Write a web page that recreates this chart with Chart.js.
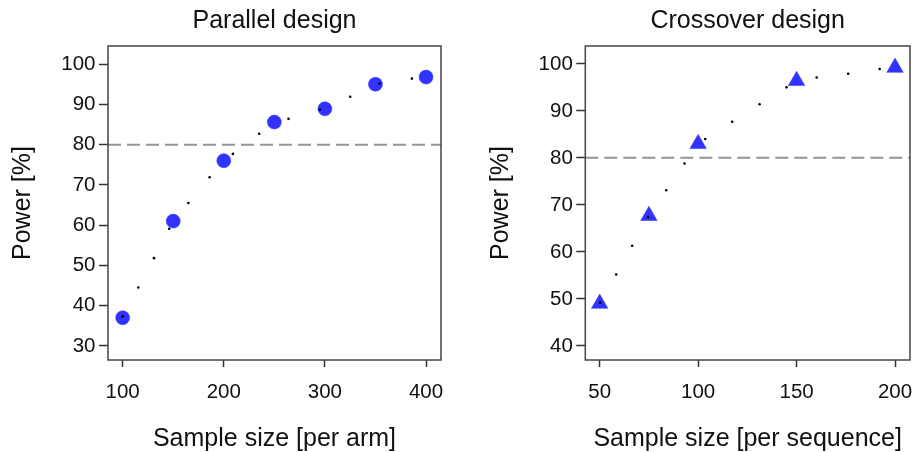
<!DOCTYPE html>
<html><head><meta charset="utf-8">
<script src="https://cdn.jsdelivr.net/npm/chart.js@4"></script>
<style>
html,body{margin:0;padding:0;background:#fff;}
#wrap{position:relative;width:920px;height:452px;overflow:hidden;}
canvas{position:absolute;top:0;}
</style></head><body>
<div id="wrap">
<canvas id="c1" width="460" height="452" style="left:0px"></canvas>
<canvas id="c2" width="460" height="452" style="left:460px"></canvas>
</div>
<script>
// ---- Data ----
const targetPower = 80;

const parallelTitle = 'Parallel design';
const parallelXTitle = 'Sample size [per arm]';
const parallelN = [100, 150, 200, 250, 300, 350, 400];
const parallelPower = [37.0, 61.0, 76.0, 85.6, 88.9, 95.0, 96.8];
const parallelCurveN = [100, 115.5, 131, 146, 165, 186, 209, 235, 264, 295, 325, 354, 386];
const parallelCurvePower = [37.3, 44.5, 51.8, 59.1, 65.5, 71.9, 77.7, 82.7, 86.4, 88.7, 91.9, 95.2, 96.4];
const parallelXTicks = [100, 200, 300, 400];
const parallelYTicks = [30, 40, 50, 60, 70, 80, 90, 100];

const crossTitle = 'Crossover design';
const crossXTitle = 'Sample size [per sequence]';
const crossN = [50, 75, 100, 150, 200];
const crossPower = [49.0, 67.7, 83.0, 96.4, 99.2];
const crossCurveN = [50.3, 58.4, 66.5, 74.6, 83.8, 93.1, 103.6, 117.3, 131.2, 144.9, 160.2, 176.2, 192.2];
const crossCurvePower = [49.2, 55.2, 61.3, 67.4, 73.1, 78.8, 84.0, 87.7, 91.4, 95.0, 97.1, 97.9, 98.9];
const crossXTicks = [50, 100, 150, 200];
const crossYTicks = [40, 50, 60, 70, 80, 90, 100];

const yTitle = 'Power [%]';

// ---- Styling ----
const FAMILY = "'Liberation Sans', Arial, Helvetica, sans-serif";
const BLUE = '#3333ff';
const TEXT = '#111111';

const framePlugin = {
  id: 'frameAndTarget',
  beforeDatasetsDraw(chart) {
    const {ctx, chartArea: a, scales} = chart;
    const y = scales.y.getPixelForValue(targetPower);
    ctx.save();
    ctx.strokeStyle = '#959595';
    ctx.lineWidth = 2;
    ctx.setLineDash([13, 6]);
    ctx.beginPath();
    ctx.moveTo(a.left, y);
    ctx.lineTo(a.right, y);
    ctx.stroke();
    ctx.restore();
  },
  afterDraw(chart) {
    const {ctx, chartArea: a} = chart;
    ctx.save();
    ctx.strokeStyle = '#444444';
    ctx.lineWidth = 1.5;
    ctx.strokeRect(a.left, a.top, a.right - a.left, a.bottom - a.top);
    ctx.restore();
  }
};

function buildChart(el, p) {
  return new Chart(el, {
    type: 'scatter',
    data: {
      datasets: [
        {
          data: p.curveX.map((x, i) => ({x, y: p.curveY[i]})),
          pointRadius: 1.3,
          pointBackgroundColor: '#000',
          pointBorderWidth: 0,
          showLine: false
        },
        {
          data: p.x.map((x, i) => ({x, y: p.y[i]})),
          pointStyle: p.style,
          pointRadius: p.r,
          pointBackgroundColor: BLUE,
          pointBorderColor: BLUE,
          pointBorderWidth: 0.5,
          showLine: false
        }
      ]
    },
    options: {
      responsive: false,
      animation: false,
      events: [],
      layout: {padding: {left: 0, right: p.rightPad, top: 0, bottom: 0}},
      plugins: {
        legend: {display: false},
        tooltip: {enabled: false},
        title: {
          display: true, text: p.title, fullSize: false, color: TEXT,
          font: {family: FAMILY, size: 25, weight: 'normal', lineHeight: 1.2},
          padding: {top: 6.5, bottom: 9.5}
        }
      },
      scales: {
        x: {
          type: 'linear', min: p.xMin, max: p.xMax,
          afterBuildTicks: s => { s.ticks = p.xTicks.map(v => ({value: v})); },
          afterFit: s => { s.height = 92; s.paddingLeft = 0; s.paddingRight = 0; },
          grid: {drawOnChartArea: false, drawTicks: true, tickLength: 7, tickColor: '#333', tickWidth: 1.5},
          border: {display: false},
          ticks: {padding: 13, color: TEXT, font: {family: FAMILY, size: 20.5}, maxRotation: 0, autoSkip: false},
          title: {display: true, text: p.xTitle, color: TEXT,
                  font: {family: FAMILY, size: 25, lineHeight: 1}, padding: {top: 0, bottom: 0}}
        },
        y: {
          type: 'linear', min: p.yMin, max: p.yMax,
          afterBuildTicks: s => { s.ticks = p.yTicks.map(v => ({value: v})); },
          afterFit: s => { s.width = p.yAxisWidth; s.paddingTop = 0; s.paddingBottom = 0; },
          grid: {drawOnChartArea: false, drawTicks: true, tickLength: 9, tickColor: '#333', tickWidth: 1.5},
          border: {display: false},
          ticks: {padding: 3.5, color: TEXT, font: {family: FAMILY, size: 20.5}, autoSkip: false},
          title: {display: true, text: yTitle, color: TEXT,
                  font: {family: FAMILY, size: 25, lineHeight: 1}, padding: {top: p.yTitlePad, bottom: 0}}
        }
      }
    },
    plugins: [framePlugin]
  });
}

buildChart(document.getElementById('c1'), {
  title: parallelTitle, xTitle: parallelXTitle,
  x: parallelN, y: parallelPower, curveX: parallelCurveN, curveY: parallelCurvePower,
  xTicks: parallelXTicks, yTicks: parallelYTicks,
  xMin: 85.5, xMax: 414.8, yMin: 26.5, yMax: 104.5,
  style: 'circle', r: 7,
  yAxisWidth: 108, rightPad: 19, yTitlePad: 10.5
});

buildChart(document.getElementById('c2'), {
  title: crossTitle, xTitle: crossXTitle,
  x: crossN, y: crossPower, curveX: crossCurveN, curveY: crossCurvePower,
  xTicks: crossXTicks, yTicks: crossYTicks,
  xMin: 42.7, xMax: 207.6, yMin: 37.0, yMax: 103.8,
  style: 'triangle', r: 9.5,
  yAxisWidth: 125.3, rightPad: 1.3, yTitlePad: 28.5
});
</script>
</body></html>
